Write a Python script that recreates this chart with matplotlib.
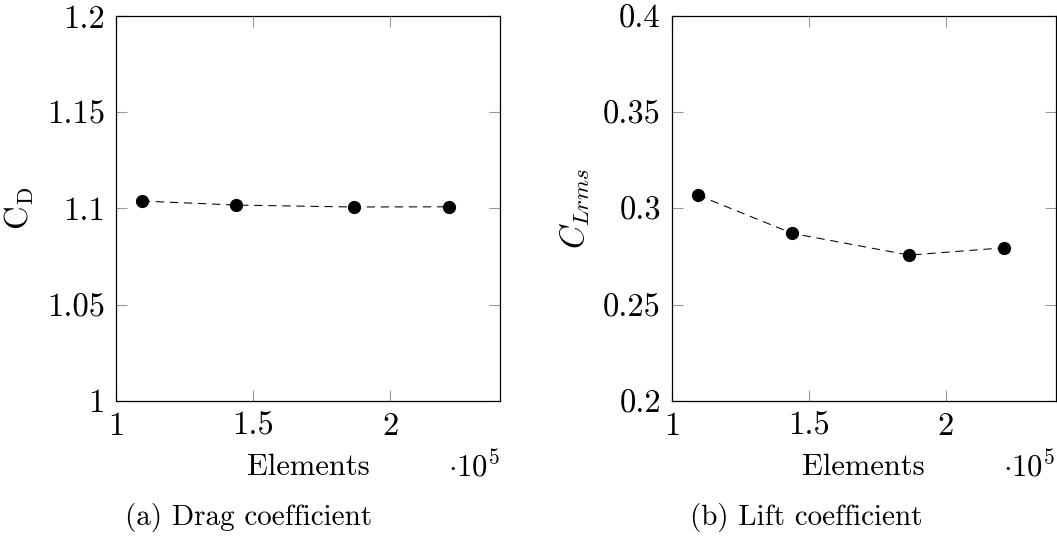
import numpy as np
import matplotlib
matplotlib.use('Agg')
import matplotlib.pyplot as plt

plt.rcParams['font.family'] = 'cmr10'
plt.rcParams['mathtext.fontset'] = 'cm'
plt.rcParams['axes.formatter.use_mathtext'] = True

# mesh sizes and coefficients
elements = np.array([109400, 143900, 186600, 221300])
cd = np.array([1.1038, 1.1017, 1.1007, 1.1008])
cl_rms = np.array([0.3069, 0.2870, 0.2757, 0.2795])

x_ticks = [1e5, 1.5e5, 2e5]
x_tick_labels = ['1', '1.5', '2']
cd_ticks = [1.0, 1.05, 1.1, 1.15, 1.2]
cd_tick_labels = ['1', '1.05', '1.1', '1.15', '1.2']
cl_ticks = [0.2, 0.25, 0.3, 0.35, 0.4]
cl_tick_labels = ['0.2', '0.25', '0.3', '0.35', '0.4']

W, H = 1057, 536
fs = 23.5
fig = plt.figure(figsize=(W / 100, H / 100), dpi=100)

ax1 = fig.add_axes([116 / W, (H - 400.7) / H, 384 / W, 384.7 / H])
ax2 = fig.add_axes([672 / W, (H - 400.7) / H, 383.5 / W, 384.7 / H])


def style(ax, y, yticks, ylabels, ylim, ylabel, caption, cap_x):
    ax.plot(elements, y, color='black', lw=0.75, ls=(0, (8, 5.5)),
            marker='o', ms=8.5, mfc='black', mec='black')
    ax.set_xlim(1e5, 2.4e5)
    ax.set_ylim(*ylim)
    ax.set_xticks(x_ticks, x_tick_labels)
    ax.set_yticks(yticks, ylabels)
    ax.tick_params(direction='in', length=8, width=0.8, color='#999999',
                   top=True, right=True, labelsize=fs, pad=8)
    for s in ax.spines.values():
        s.set_linewidth(0.9)
    ax.set_ylabel(ylabel, fontsize=fs, labelpad=8)
    ax.set_xlabel('Elements', fontsize=22, labelpad=9)
    ax.text(1.0, -0.17, r'$\cdot 10^{5}$', transform=ax.transAxes,
            ha='right', va='center', fontsize=22)
    fig.text(cap_x / W, (H - 517) / H, caption, ha='center', va='center',
             fontsize=21)


style(ax1, cd, cd_ticks, cd_tick_labels, (1.0, 1.2),
      r'$\mathrm{C}_\mathrm{D}$', '(a) Drag coefficient', 249)
style(ax2, cl_rms, cl_ticks, cl_tick_labels, (0.2, 0.4),
      r'$C_{Lrms}$', '(b) Lift coefficient', 806)

plt.savefig('out.png', dpi=100)
